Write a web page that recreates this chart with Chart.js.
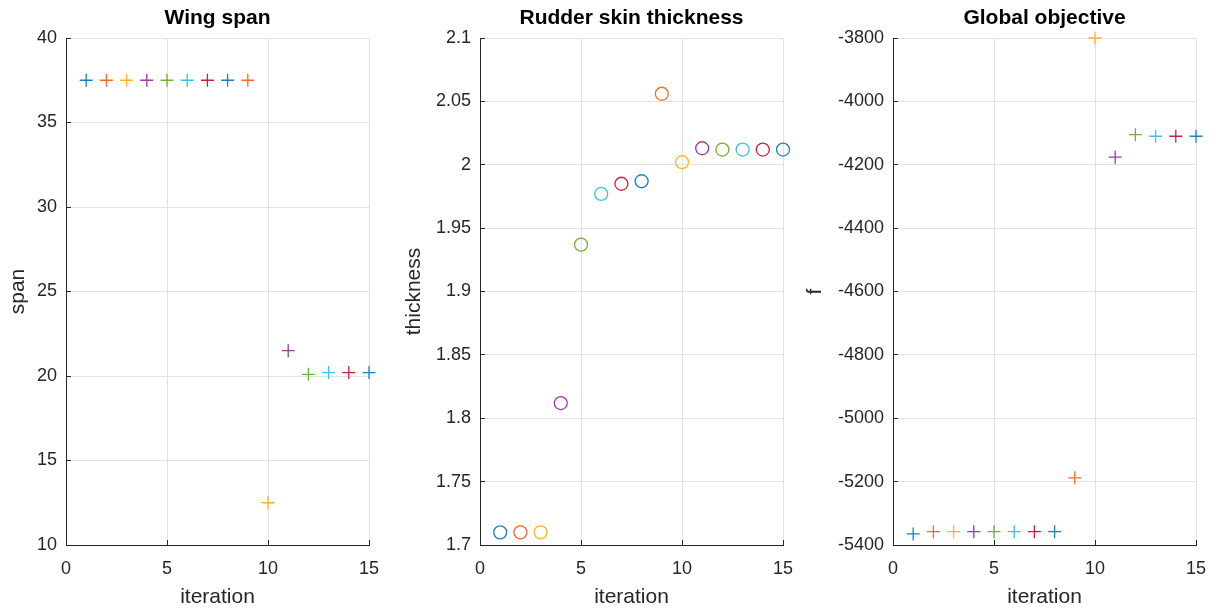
<!DOCTYPE html>
<html>
<head>
<meta charset="utf-8">
<script src="https://cdn.jsdelivr.net/npm/chart.js@4"></script>
<style>
    body { margin: 0; background: #fff; width: 1219px; height: 610px; position: relative; overflow: hidden; }
    canvas { position: absolute; top: 0; }
</style>
</head>
<body>
<canvas id="spanChart" width="390" height="610" style="left:0px"></canvas>
<canvas id="thicknessChart" width="410" height="610" style="left:390px"></canvas>
<canvas id="objectiveChart" width="419" height="610" style="left:800px"></canvas>
<script>
// Data
const iterations = [1, 2, 3, 4, 5, 6, 7, 8, 9, 10, 11, 12, 13, 14, 15];
const span = [37.5, 37.5, 37.5, 37.5, 37.5, 37.5, 37.5, 37.5, 37.5, 12.5, 21.5, 20.1, 20.2, 20.2, 20.2];
const thickness = [1.71, 1.71, 1.71, 1.812, 1.937, 1.977, 1.985, 1.987, 2.056, 2.002, 2.013, 2.012, 2.012, 2.012, 2.012];
const objective = [-5365, -5358, -5358, -5358, -5358, -5358, -5358, -5358, -5188, -3800, -4176, -4105, -4110, -4110, -4110];

const spanTicks = [10, 15, 20, 25, 30, 35, 40];
const thicknessTicks = [1.7, 1.75, 1.8, 1.85, 1.9, 1.95, 2, 2.05, 2.1];
const objectiveTicks = [-5400, -5200, -5000, -4800, -4600, -4400, -4200, -4000, -3800];
const iterationTicks = [0, 5, 10, 15];

// MATLAB-like colour order, one colour per iteration
const colorOrder = ['#1c7fc4', '#ff6628', '#ffb222', '#9c3aa2', '#6db42e', '#36c3ee', '#c71f40'];
const pointColors = iterations.map((_, i) => colorOrder[i % colorOrder.length]);

const axisColor = '#262626';
const gridColor = '#e2e2e2';
const tickFont = { family: 'Liberation Sans, Arial, sans-serif', size: 18 };
const labelFont = { family: 'Liberation Sans, Arial, sans-serif', size: 21 };

function makeChart(id, opts) {
    const ctx = document.getElementById(id).getContext('2d');
    return new Chart(ctx, {
        type: 'scatter',
        data: {
            datasets: [{
                data: iterations.map((x, i) => ({ x: x, y: opts.values[i] })),
                pointStyle: opts.marker,
                pointRadius: 6.5,
                pointBorderWidth: 1.3,
                pointBorderColor: pointColors,
                pointBackgroundColor: opts.marker === 'circle' ? 'rgba(0,0,0,0)' : pointColors,
                showLine: false,
                clip: false
            }]
        },
        options: {
            responsive: false,
            animation: false,
            devicePixelRatio: 1,
            events: [],
            layout: { autoPadding: false, padding: { left: 0, right: opts.rightPad, top: 0, bottom: 0 } },
            plugins: {
                legend: { display: false },
                tooltip: { enabled: false },
                title: {
                    display: true,
                    text: opts.title,
                    fullSize: false,
                    color: '#000',
                    font: { family: 'Liberation Sans, Arial, sans-serif', size: 21, weight: 'bold' },
                    padding: { top: 6, bottom: 6.8 }
                }
            },
            scales: {
                x: {
                    type: 'linear',
                    min: 0,
                    max: 15,
                    afterBuildTicks: axis => { axis.ticks = iterationTicks.map(v => ({ value: v })); },
                    afterFit: axis => {
                        axis.height = 65;
                        axis.paddingLeft = 0;
                        axis.paddingRight = 0;
                    },
                    grid: { color: gridColor, tickColor: axisColor, tickLength: -5, drawTicks: true },
                    border: { display: true, color: axisColor, width: 1 },
                    ticks: { color: axisColor, font: tickFont, padding: 18, maxRotation: 0 },
                    title: { display: true, text: 'iteration', color: axisColor, font: labelFont, padding: { top: 0, bottom: 0 } }
                },
                y: {
                    type: 'linear',
                    min: opts.ticks[0],
                    max: opts.ticks[opts.ticks.length - 1],
                    afterBuildTicks: axis => { axis.ticks = opts.ticks.map(v => ({ value: v })); },
                    afterFit: axis => {
                        axis.width = opts.axisWidth;
                        axis.paddingTop = 0;
                        axis.paddingBottom = 0;
                    },
                    grid: { color: gridColor, tickColor: axisColor, tickLength: -5, drawTicks: true },
                    border: { display: true, color: axisColor, width: 1 },
                    ticks: {
                        color: axisColor,
                        font: tickFont,
                        padding: 14,
                        callback: v => String(parseFloat(Number(v).toFixed(3)))
                    },
                    title: { display: true, text: opts.yLabel, color: axisColor, font: labelFont, padding: { top: opts.yTitlePad, bottom: 0 } }
                }
            }
        }
    });
}

document.addEventListener('DOMContentLoaded', function () {
    // Wing span: plot area x 66..369
    makeChart('spanChart', {
        values: span, ticks: spanTicks, marker: 'cross', title: 'Wing span', yLabel: 'span',
        axisWidth: 66, rightPad: 21, yTitlePad: 5.4
    });
    // Rudder skin thickness: plot area x 480..783
    makeChart('thicknessChart', {
        values: thickness, ticks: thicknessTicks, marker: 'circle', title: 'Rudder skin thickness', yLabel: 'thickness',
        axisWidth: 90, rightPad: 17, yTitlePad: 11.4
    });
    // Global objective: plot area x 893..1196
    makeChart('objectiveChart', {
        values: objective, ticks: objectiveTicks, marker: 'cross', title: 'Global objective', yLabel: 'f',
        axisWidth: 93, rightPad: 23, yTitlePad: 2.4
    });
});
</script>
</body>
</html>
